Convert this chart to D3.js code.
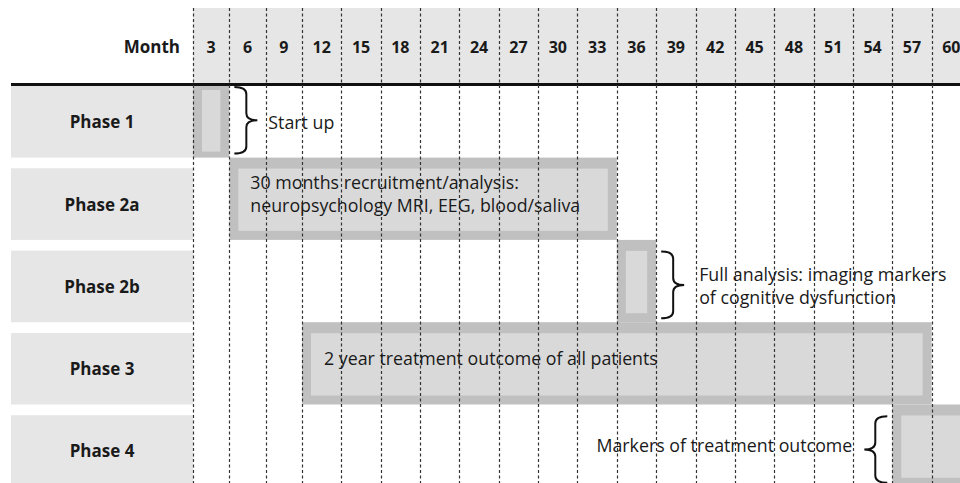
<!DOCTYPE html>
<html>
<head>
<meta charset="utf-8">
<script src="https://cdn.jsdelivr.net/npm/d3@7"></script>
<style>
  html, body { margin: 0; padding: 0; background: #fff; }
  text { font-family: "Open Sans", "DejaVu Sans", sans-serif; }
</style>
</head>
<body>
<svg id="chart" width="960" height="483"></svg>
<script>
// ---- data ----
const months = [3, 6, 9, 12, 15, 18, 21, 24, 27, 30, 33, 36, 39, 42, 45, 48, 51, 54, 57, 60];
const phases = ["Phase 1", "Phase 2a", "Phase 2b", "Phase 3", "Phase 4"];
const barStart = [0, 3, 33, 9, 54];
const barEnd   = [3, 33, 36, 57, 60];
const notes = [
  ["Start up"],
  ["30 months recruitment/analysis:", "neuropsychology MRI, EEG, blood/saliva"],
  ["Full analysis: imaging markers", "of cognitive dysfunction"],
  ["2 year treatment outcome of all patients"],
  ["Markers of treatment outcome"]
];
const braceSide = ["right", null, "right", null, "left"];

// ---- layout ----
const W = 960, H = 483;
const svg = d3.select("#chart");
const headerTop = 8, headerBottom = 83;
const labelLeft = 11;

const x = d3.scaleLinear().domain([0, 9, 60]).range([193, 302, 971]);
const y = d3.scaleBand().domain(phases).range([86, 486.8]).paddingInner(0.13).paddingOuter(0);
const gap = y.step() - y.bandwidth();

// header background
svg.append("rect")
  .attr("x", x(0)).attr("y", headerTop)
  .attr("width", W - x(0)).attr("height", headerBottom - headerTop)
  .attr("fill", "#e6e6e6");

// row label boxes
svg.append("g").selectAll("rect").data(phases).join("rect")
  .attr("x", labelLeft).attr("y", d => y(d))
  .attr("width", x(0) - labelLeft).attr("height", y.bandwidth())
  .attr("fill", "#e6e6e6");

svg.append("g").selectAll("text").data(phases).join("text")
  .attr("x", (labelLeft + x(0)) / 2)
  .attr("y", d => y(d) + y.bandwidth() / 2)
  .attr("text-anchor", "middle").attr("dominant-baseline", "central")
  .attr("font-size", 17).attr("font-weight", "bold").attr("fill", "#1a1a1a")
  .text(d => d);

// bars
const bars = phases.map((p, i) => {
  const top = Math.max(y(p) - gap, headerBottom + 1);
  return { p, i, x0: x(barStart[i]), x1: x(barEnd[i]), top, bottom: y(p) + y.bandwidth() };
});
const gb = svg.append("g");
gb.selectAll("rect.outer").data(bars).join("rect").attr("class", "outer")
  .attr("x", d => d.x0).attr("y", d => d.top)
  .attr("width", d => d.x1 - d.x0).attr("height", d => d.bottom - d.top)
  .attr("fill", "#c0c0c0");
gb.selectAll("rect.inner").data(bars).join("rect").attr("class", "inner")
  .attr("x", d => d.x0 + 9).attr("y", d => d.top + (d.i === 0 ? 6 : 11))
  .attr("width", d => d.x1 - d.x0 - 18).attr("height", d => d.bottom - d.top - (d.i === 0 ? 12 : 20))
  .attr("fill", "#d9d9d9");

// header line
svg.append("line")
  .attr("x1", labelLeft).attr("x2", W)
  .attr("y1", headerBottom + 1.5).attr("y2", headerBottom + 1.5)
  .attr("stroke", "#111").attr("stroke-width", 3);

// month header labels
svg.append("text")
  .attr("x", 180).attr("y", (headerTop + headerBottom) / 2 + 1)
  .attr("text-anchor", "end").attr("dominant-baseline", "central")
  .attr("font-size", 17).attr("font-weight", "bold").attr("fill", "#1a1a1a")
  .text("Month");
svg.append("g").selectAll("text").data(months).join("text")
  .attr("x", m => (x(m - 3) + x(m)) / 2)
  .attr("y", (headerTop + headerBottom) / 2 + 1)
  .attr("text-anchor", "middle").attr("dominant-baseline", "central")
  .attr("font-size", 16).attr("font-weight", "bold").attr("fill", "#1a1a1a")
  .text(m => m);

// dashed grid lines (column boundaries)
const bounds = [0].concat(months);
svg.append("g").selectAll("line").data(bounds).join("line")
  .attr("x1", m => Math.round(x(m)) + 0.5).attr("x2", m => Math.round(x(m)) + 0.5)
  .attr("y1", headerTop).attr("y2", H)
  .attr("stroke", "#333").attr("stroke-width", 1.2)
  .attr("stroke-dasharray", "3,2.5");

// braces
function brace(side, x0, y0, y1) {
  const p = d3.path();
  const ym = (y0 + y1) / 2, s = side === "right" ? 1 : -1;
  const body = x0 + s * 12, tip = body + s * 11, q = 7;
  p.moveTo(x0, y0);
  p.quadraticCurveTo(body, y0, body, y0 + q);
  p.lineTo(body, ym - q);
  p.quadraticCurveTo(body, ym, tip, ym);
  p.quadraticCurveTo(body, ym, body, ym + q);
  p.lineTo(body, y1 - q);
  p.quadraticCurveTo(body, y1, x0, y1);
  return p.toString();
}
const braceData = bars.filter(d => braceSide[d.i]).map(d => {
  const side = braceSide[d.i];
  const bx = side === "right" ? d.x1 + 5 : d.x0 - 5;
  return { side, bx, y0: y(d.p) + 1, y1: y(d.p) + y.bandwidth() - 4 };
});
svg.append("g").selectAll("path").data(braceData).join("path")
  .attr("d", d => brace(d.side, d.bx, d.y0, d.y1))
  .attr("fill", "none").attr("stroke", "#111").attr("stroke-width", 2);

// annotation texts
const noteX = [x(3) + 39, x(3) + 21, x(36) + 43, x(9) + 22, x(54) - 40];
const noteAnchor = ["start", "start", "start", "start", "end"];
const noteDy = [0, -22, -12, -11, -6];
const noteLine = [23, 23, 23, 23, 23];
const ga = svg.append("g");
notes.forEach((lines, i) => {
  const cy = y(phases[i]) + y.bandwidth() / 2 + noteDy[i];
  const t = ga.append("text")
    .attr("x", noteX[i]).attr("y", cy)
    .attr("text-anchor", noteAnchor[i]).attr("dominant-baseline", "central")
    .attr("font-size", 17.8).attr("fill", "#1a1a1a");
  lines.forEach((l, j) => t.append("tspan").attr("x", noteX[i]).attr("dy", j === 0 ? 0 : noteLine[i]).text(l));
});
</script>
</body>
</html>
